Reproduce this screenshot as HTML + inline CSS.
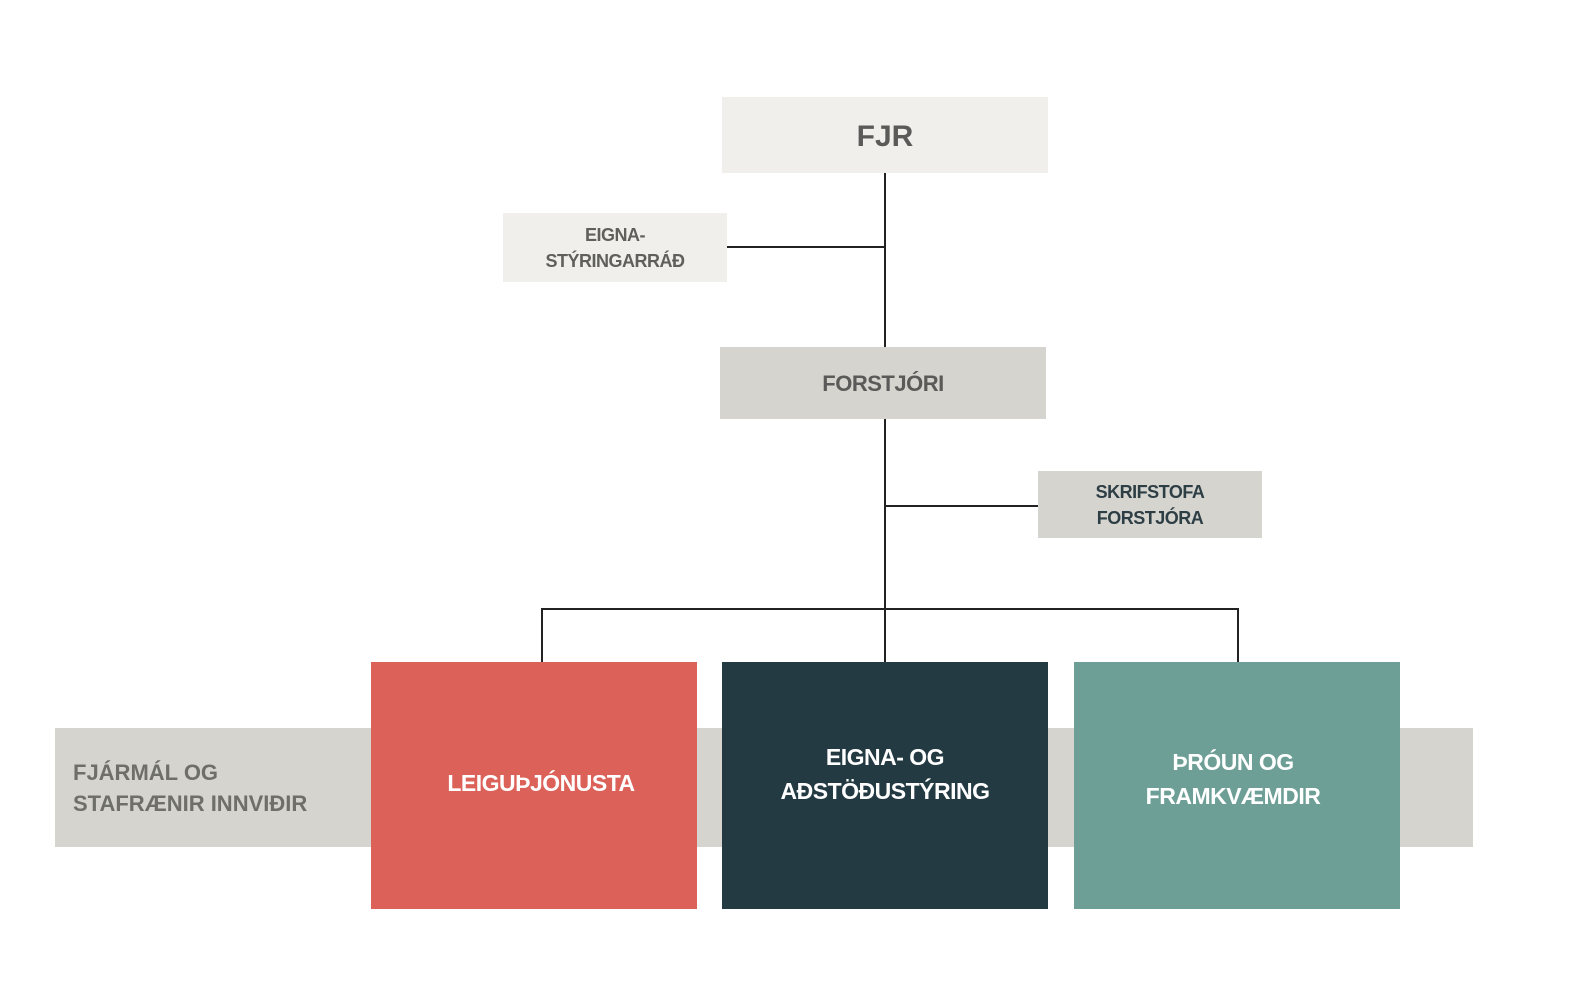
<!DOCTYPE html>
<html><head><meta charset="utf-8"><style>
body{margin:0;width:1569px;height:994px;background:#fff;position:relative;overflow:hidden;font-family:"Liberation Sans",sans-serif;font-weight:bold}
.b{position:absolute;display:flex;align-items:center;justify-content:center;text-align:center}
.l{position:absolute;background:#222}
</style></head><body>
<div class="b" style="left:55px;top:728px;width:1418px;height:119px;background:#d5d4cf"></div>
<div style="position:absolute;left:73px;top:757px;font-size:22px;line-height:31px;color:#6f6f6a;letter-spacing:0px">FJÁRMÁL OG<br>STAFRÆNIR INNVIÐIR</div>

<div class="l" style="left:884px;top:173px;width:2px;height:174px"></div>
<div class="l" style="left:884px;top:419px;width:2px;height:243px"></div>
<div class="l" style="left:727px;top:246px;width:158px;height:2px"></div>
<div class="l" style="left:885px;top:505px;width:153px;height:2px"></div>
<div class="l" style="left:541px;top:608px;width:698px;height:2px"></div>
<div class="l" style="left:541px;top:608px;width:2px;height:54px"></div>
<div class="l" style="left:1237px;top:608px;width:2px;height:54px"></div>

<div class="b" style="left:722px;top:97px;width:326px;height:76px;background:#f0efec;color:#5a5a58;font-size:30px;padding-top:4px;box-sizing:border-box">FJR</div>
<div class="b" style="left:503px;top:213px;width:224px;height:69px;background:#f0efec;color:#5f5f5c;font-size:18px;line-height:26px;letter-spacing:-0.5px">EIGNA-<br>STÝRINGARRÁÐ</div>
<div class="b" style="left:720px;top:347px;width:326px;height:72px;background:#d5d4cf;color:#5a5a58;font-size:22px;letter-spacing:-0.5px;padding-top:2px;box-sizing:border-box">FORSTJÓRI</div>
<div class="b" style="left:1038px;top:471px;width:224px;height:67px;background:#d5d4cf;color:#2e3e45;font-size:18px;line-height:26px;letter-spacing:-0.5px">SKRIFSTOFA<br>FORSTJÓRA</div>

<div class="b" style="left:371px;top:662px;width:326px;height:247px;background:#db6159;color:#fff;font-size:23px;align-items:flex-start;padding-top:108px;padding-left:14px;box-sizing:border-box;letter-spacing:-0.5px">LEIGUÞJÓNUSTA</div>
<div class="b" style="left:722px;top:662px;width:326px;height:247px;background:#233a43;color:#fff;font-size:23px;line-height:34px;align-items:flex-start;padding-top:78px;box-sizing:border-box;letter-spacing:-0.5px">EIGNA- OG<br>AÐSTÖÐUSTÝRING</div>
<div class="b" style="left:1074px;top:662px;width:326px;height:247px;background:#6d9f96;color:#fff;font-size:23px;line-height:34px;align-items:flex-start;padding-top:83px;padding-right:8px;box-sizing:border-box;letter-spacing:-0.5px">ÞRÓUN OG<br>FRAMKVÆMDIR</div>
</body></html>
